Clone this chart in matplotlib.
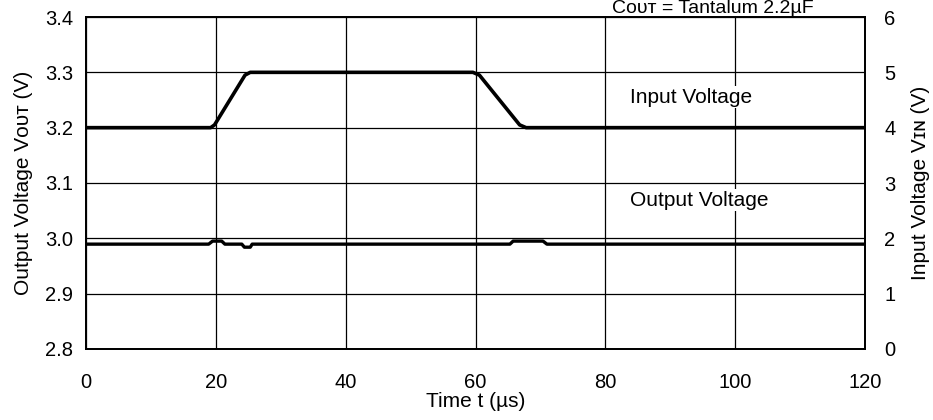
import matplotlib
matplotlib.use('Agg')
import matplotlib.pyplot as plt

plt.rcParams['font.family'] = ['Liberation Sans', 'DejaVu Sans']

# input voltage step (right axis, V)
t_in = [0, 19.2, 19.8, 24.5, 25.3, 59.6, 60.6, 66.8, 67.8, 120]
v_in = [4, 4, 4.05, 4.95, 5, 5, 4.95, 4.05, 4, 4]

# output voltage response (left axis, V)
t_out = [0, 18.9, 19.5, 20.9, 21.4, 24.0, 24.4, 25.3, 25.6, 65.3, 65.8, 70.4, 71.0, 120]
v_out = [2.9895, 2.9895, 2.995, 2.995, 2.9895, 2.9895, 2.984, 2.984, 2.9895,
         2.9895, 2.995, 2.995, 2.9895, 2.9895]

x_ticks = [0, 20, 40, 60, 80, 100, 120]
y_ticks = [2.8, 2.9, 3.0, 3.1, 3.2, 3.3, 3.4]
y2_ticks = [0, 1, 2, 3, 4, 5, 6]

fig = plt.figure(figsize=(9.33, 4.2), dpi=100)
ax = fig.add_axes([86/933, 1-349/420, (865-86)/933, (349-17)/420])
ax2 = ax.twinx()

ax.plot(t_out, v_out, color='black', lw=2.4, solid_joinstyle='round')
ax2.plot(t_in, v_in, color='black', lw=2.6, solid_joinstyle='round')

ax.set_xlim(0, 120)
ax.set_ylim(2.8, 3.4)
ax2.set_ylim(0, 6)
ax.set_xticks(x_ticks)
ax.set_yticks(y_ticks)
ax.set_yticklabels(['%.1f' % v for v in y_ticks])
ax2.set_yticks(y2_ticks)
ax.grid(True, color='black', lw=0.9)
ax.set_axisbelow(True)

for a in (ax, ax2):
    a.tick_params(length=0, labelsize=14.5, pad=9)
    for s in a.spines.values():
        s.set_linewidth(1.3)

ax.tick_params(axis='x', pad=17)
ax2.tick_params(axis='y', pad=14)
ax.set_xlabel('Time t (\u00b5s)', fontsize=15, labelpad=0)
ax.set_ylabel('Output Voltage V\u1d0f\u1d1c\u1d1b (V)', fontsize=15, labelpad=9)
ax2.set_ylabel('Input Voltage V\u026a\u0274 (V)', fontsize=15, labelpad=11)

box = dict(facecolor='white', edgecolor='none', pad=1)
ax.text(83.8, 3.255, 'Input Voltage', fontsize=15, va='center', bbox=box)
ax.text(83.8, 3.069, 'Output Voltage', fontsize=15, va='center', bbox=box)

fig.text(612/933, 1-13/420, 'C\u1d0f\u1d1c\u1d1b = Tantalum 2.2\u00b5F', fontsize=14, va='baseline')

fig.savefig('out.png', dpi=100)
